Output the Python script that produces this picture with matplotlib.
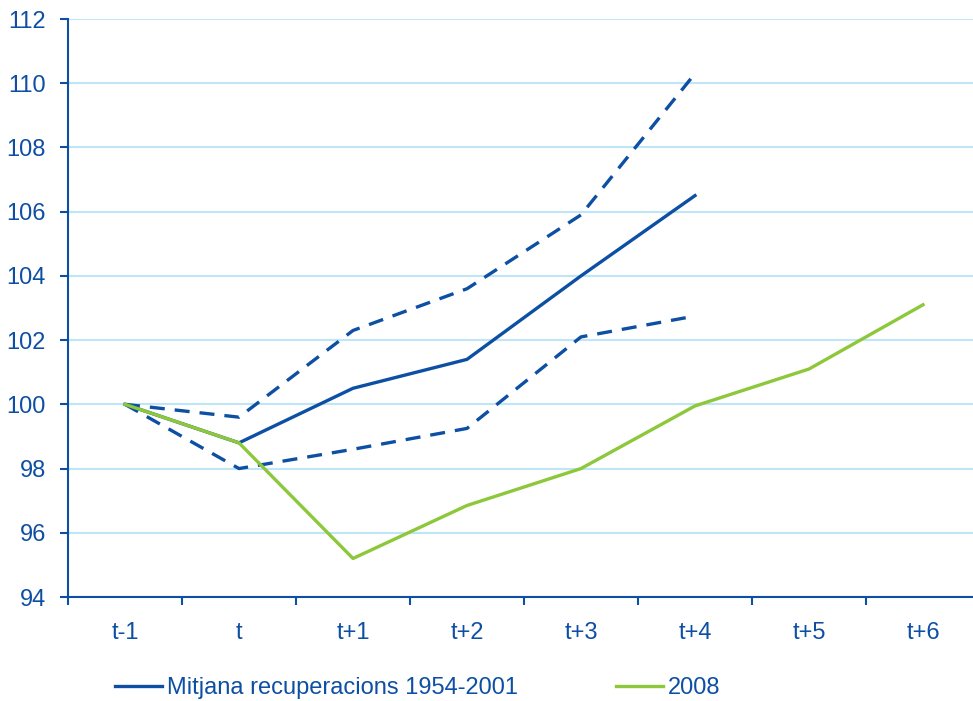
import matplotlib
matplotlib.use("Agg")
import matplotlib.pyplot as plt
from matplotlib.lines import Line2D

categories = ["t-1", "t", "t+1", "t+2", "t+3", "t+4", "t+5", "t+6"]
mean_recov = [100.0, 98.8, 100.5, 101.4, 104.0, 106.5]
upper_band = [100.0, 99.6, 102.3, 103.6, 105.9, 110.3]
lower_band = [100.0, 98.0, 98.6, 99.25, 102.1, 102.75]
y2008 = [100.0, 98.8, 95.2, 96.85, 98.0, 99.95, 101.1, 103.1]
yticks = [94, 96, 98, 100, 102, 104, 106, 108, 110, 112]

BLUE = "#0D4FA3"
GREEN = "#8CC83A"
GRID = "#BFE6F7"
TXT = "#0D4FA3"

plt.rcParams['font.family'] = ['Liberation Sans', 'DejaVu Sans']

fig = plt.figure(figsize=(9.73, 7.01), dpi=100)
W, H = 973, 701
ax = fig.add_axes([68 / W, (H - 597) / H, 912 / W, (597 - 19) / H])

x = list(range(len(categories)))
ax.plot(x[:len(upper_band)], upper_band, color=BLUE, lw=2.4, dashes=(4.5, 3.0))
ax.plot(x[:len(lower_band)], lower_band, color=BLUE, lw=2.4, dashes=(4.5, 3.0))
ax.plot(x[:len(mean_recov)], mean_recov, color=BLUE, lw=2.4)
ax.plot(x, y2008, color=GREEN, lw=2.4)

ax.set_xlim(-0.5, len(categories) - 0.5)
ax.set_ylim(94, 112)
ax.set_yticks(yticks)
ax.set_yticklabels([str(v) for v in yticks])
ax.yaxis.grid(True, color=GRID, lw=1.5)
ax.set_axisbelow(True)

ax.set_xticks(x)
ax.set_xticklabels(categories)
ax.set_xticks([i + 0.5 for i in range(-1, len(categories) - 1)], minor=True)
ax.tick_params(axis='x', which='major', length=0, pad=18, labelsize=17, labelcolor=TXT)
ax.tick_params(axis='x', which='minor', length=6, width=1.5, color=BLUE, direction='out')
ax.tick_params(axis='y', length=6, width=1.5, color=BLUE, direction='out', pad=10, labelsize=17, labelcolor=TXT)

for s in ['top', 'right']:
    ax.spines[s].set_visible(False)
for s in ['left', 'bottom']:
    ax.spines[s].set_color(BLUE)
    ax.spines[s].set_linewidth(1.5)

handles = [Line2D([], [], color=BLUE, lw=2.4), Line2D([], [], color=GREEN, lw=2.4)]
leg = fig.legend(handles, ["Mitjana recuperacions 1954-2001", "2008"],
                 loc='center left', bbox_to_anchor=(115 / W, 1 - 688 / H),
                 ncol=2, frameon=False, fontsize=17, handlelength=2.0,
                 handletextpad=0.21, columnspacing=4.15, borderpad=0,
                 borderaxespad=0)
for t in leg.get_texts():
    t.set_color(TXT)

fig.savefig("out.png", dpi=100)
